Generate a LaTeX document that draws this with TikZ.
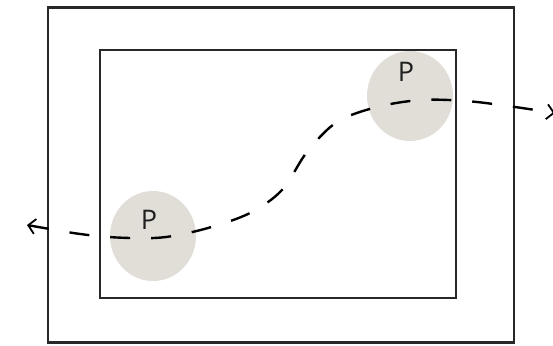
\documentclass[tikz,border=0pt]{standalone}
\usepackage{fontspec}
\setmainfont{Open Sans}
\usetikzlibrary{arrows.meta,shapes.geometric}
\definecolor{blob}{RGB}{224,222,215}
\definecolor{frame}{RGB}{40,40,40}
\tikzset{
  framebox/.style={draw=frame,line width=2.6pt},
  blobnode/.style={ellipse,fill=blob,minimum width=86pt,minimum height=90pt,inner sep=0pt},
  plabel/.style={font=\fontsize{27}{27}\selectfont,text=black!88,inner sep=0pt},
  route/.style={line width=2.4pt,dash pattern=on 20pt off 21pt,
    {Straight Barb[length=7pt,width=15pt,line width=1.8pt]}-{Straight Barb[length=7pt,width=15pt,line width=1.8pt]}}
}
\begin{document}
\begin{tikzpicture}[x=1pt,y=-1pt]
\useasboundingbox (0,0) rectangle (553,345);
\node[framebox,minimum width=466pt,minimum height=335pt,inner sep=0pt] (outer) at (281,175) {};
\node[framebox,minimum width=356pt,minimum height=248pt,inner sep=0pt] (inner) at (278,174) {};
\node[blobnode] (p1) at (153,236) {};
\node[blobnode] (p2) at (410,96) {};
\node[plabel] (l1) at (149,220) {P};
\node[plabel] (l2) at (406,72) {P};
\coordinate (s) at (27,225);
\coordinate (e) at (555,113);
\draw[route] plot[smooth,tension=0.55] coordinates {(s) (88,235) (130,238) (166,237) (208,228) (250,213) (282,190) (307,152) (337,122) (377,107) (421,100) (466,101) (508,106) (e)};
\end{tikzpicture}
\end{document}
